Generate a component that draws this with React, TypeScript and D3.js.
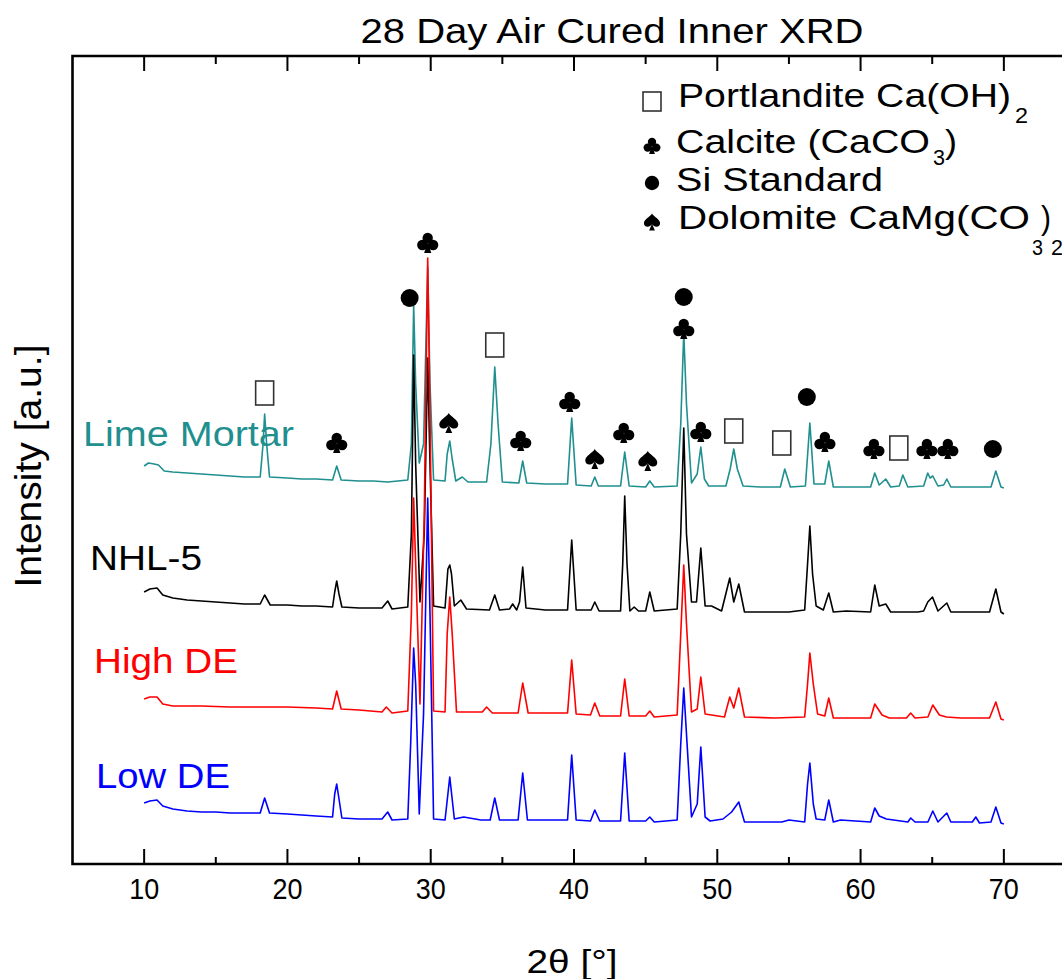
import React from 'react';
import * as d3 from 'd3';

type Pt = [number, number];

// 2θ (deg) vs stacked intensity (a.u.)
const limeMortar: Pt[] = [[10.0,398],[10.3,401],[10.7,400],[11.0,399],[11.4,393],[12.0,392],[13.0,391],[14.0,390],[15.0,389],[16.0,388],[17.0,387],[18.1,387],[18.3,420],[18.41,450],[18.55,420],[18.75,387],[20.0,386],[21.0,385],[22.0,385],[23.15,384],[23.44,398],[23.75,384],[25.0,383],[26.0,383],[27.0,382],[28.4,384],[28.65,420],[28.81,559],[28.95,480],[29.2,401],[29.5,420],[29.79,597],[29.95,480],[30.2,384],[31.0,383],[31.15,410],[31.33,423],[31.5,405],[31.75,383],[32.2,387],[32.6,382],[33.9,382],[34.2,420],[34.47,497],[34.7,440],[35.0,382],[36.15,381],[36.42,403],[36.7,381],[38.0,380],[39.55,380],[39.84,446],[40.15,379],[41.2,378],[41.45,387],[41.7,378],[43.25,378],[43.54,412],[43.85,378],[45.0,377],[45.29,383],[45.6,377],[47.2,378],[47.45,440],[47.66,531],[47.85,460],[48.2,381],[48.6,390],[48.85,417],[49.1,385],[49.4,378],[50.6,378],[50.9,395],[51.15,415],[51.4,395],[51.8,378],[53.0,377],[54.4,377],[54.71,395],[55.1,377],[56.15,378],[56.46,441],[56.75,380],[57.5,380],[57.78,403],[58.1,377],[60.7,377],[60.99,391],[61.3,379],[61.76,385],[62.1,377],[62.7,378],[62.95,389],[63.3,377],[64.4,378],[64.69,391],[64.85,386],[65.04,388],[65.4,378],[65.8,379],[66.02,385],[66.3,377],[67.5,377],[69.1,377],[69.44,393],[69.8,377],[70.0,376]];

const nhl5: Pt[] = [[10.0,272],[10.4,275],[10.9,276],[11.3,269],[12.0,266],[13.0,264],[14.0,263],[15.0,262],[16.0,261],[17.0,260],[18.1,260],[18.41,269],[18.8,259],[20.0,259],[21.0,258],[22.0,258],[23.15,257],[23.3,272],[23.44,283],[23.6,270],[23.8,257],[25.0,256],[26.6,256],[27.0,263],[27.3,255],[28.4,257],[28.65,330],[28.81,509],[28.95,400],[29.25,262],[29.55,330],[29.79,506],[29.95,400],[30.2,258],[31.0,256],[31.2,295],[31.33,299],[31.45,290],[31.65,258],[32.1,264],[32.5,255],[34.1,254],[34.47,269],[34.8,254],[35.5,255],[35.72,260],[36.0,254],[36.2,262],[36.42,297],[36.65,256],[38.0,254],[39.55,254],[39.84,324],[40.15,254],[41.2,254],[41.45,262],[41.75,253],[43.25,253],[43.4,300],[43.54,368],[43.7,300],[43.9,253],[44.2,257],[44.5,253],[45.0,253],[45.29,272],[45.6,253],[47.2,255],[47.45,330],[47.66,436],[47.85,330],[48.2,262],[48.55,262],[48.85,316],[49.15,258],[49.6,258],[50.3,253],[50.87,286],[51.15,262],[51.5,280],[51.9,252],[53.0,252],[55.0,252],[56.1,254],[56.3,300],[56.46,338],[56.65,290],[56.9,258],[57.4,254],[57.78,271],[58.1,252],[59.0,253],[60.7,252],[60.99,279],[61.3,258],[61.76,260],[62.1,252],[64.0,252],[64.4,253],[64.69,262],[65.02,267],[65.4,253],[66.02,261],[66.3,252],[69.0,252],[69.44,275],[69.8,252],[70.0,250]];

const highDE: Pt[] = [[10.0,165],[10.4,167],[10.9,167],[11.3,160],[12.0,158],[14.0,158],[16.0,157],[18.0,157],[20.0,157],[22.0,156],[23.15,155],[23.44,173],[23.75,155],[25.0,154],[26.6,152],[26.9,157],[27.3,151],[28.4,153],[28.65,250],[28.81,366],[28.95,300],[29.25,160],[29.55,350],[29.79,606],[29.95,450],[30.2,153],[31.0,152],[31.15,230],[31.33,267],[31.5,230],[31.8,152],[33.6,152],[33.9,157],[34.3,151],[36.1,151],[36.42,181],[36.8,151],[39.55,151],[39.84,204],[40.15,150],[41.15,149],[41.45,161],[41.8,148],[43.25,148],[43.54,185],[43.85,148],[45.0,148],[45.29,153],[45.6,147],[47.2,149],[47.45,230],[47.66,299],[47.85,240],[48.2,152],[48.6,155],[48.85,187],[49.15,150],[50.5,147],[50.87,167],[51.15,156],[51.5,176],[51.9,147],[54.0,146],[56.1,147],[56.3,180],[56.46,211],[56.7,180],[57.0,150],[57.5,148],[57.78,166],[58.1,146],[60.7,146],[60.99,160],[61.5,149],[62.0,146],[63.2,146],[63.5,151],[63.8,146],[64.7,147],[65.04,159],[65.5,149],[66.0,147],[67.0,146],[69.0,146],[69.44,162],[69.8,145],[70.0,144]];

const lowDE: Pt[] = [[10.0,61],[10.4,63],[10.9,64],[11.3,58],[12.0,55],[13.0,53],[14.0,52],[15.0,52],[16.0,51],[17.0,51],[18.1,51],[18.41,66],[18.75,51],[20.0,50],[21.0,49],[22.0,48],[23.15,47],[23.3,70],[23.44,80],[23.6,65],[23.8,46],[25.0,45],[26.6,45],[27.0,52],[27.3,44],[28.4,45],[28.6,120],[28.81,216],[28.95,180],[29.2,50],[29.5,150],[29.79,366],[29.95,250],[30.2,45],[31.0,44],[31.33,87],[31.65,45],[32.3,47],[33.5,44],[34.15,44],[34.47,66],[34.8,44],[36.1,44],[36.42,91],[36.75,44],[39.55,44],[39.84,109],[40.15,44],[41.15,43],[41.45,54],[41.8,43],[43.25,43],[43.54,111],[43.85,43],[45.0,43],[45.29,47],[45.6,42],[47.2,44],[47.45,120],[47.66,176],[47.85,130],[48.2,47],[48.6,60],[48.85,117],[49.15,47],[49.5,43],[50.4,45],[51.0,52],[51.5,62],[51.9,42],[54.5,42],[55.0,44],[56.1,42],[56.3,80],[56.46,101],[56.7,60],[56.9,45],[57.5,44],[57.78,64],[58.1,42],[58.6,44],[60.7,42],[60.99,56],[61.3,48],[61.8,45],[63.3,42],[63.5,46],[63.8,42],[64.7,42],[65.04,53],[65.4,42],[66.02,51],[66.3,42],[67.8,42],[68.04,47],[68.3,41],[69.1,42],[69.44,57],[69.8,41],[70.0,40]];

const seriesNames = ['Lime Mortar', 'NHL-5', 'High DE', 'Low DE'];
const seriesColors = ['#1f8f8f', '#000000', '#ff0000', '#0000ff'];
const seriesData = [limeMortar, nhl5, highDE, lowDE];

type Kind = 'sq' | 'club' | 'dot' | 'spade';
const markerTheta = [18.41, 23.44, 28.53, 29.79, 31.26, 34.47, 36.28, 39.70, 41.45, 43.47, 45.15, 47.66, 47.66, 48.85, 51.15, 54.50, 56.25, 57.51, 60.93, 62.67, 64.63, 66.09, 69.23];
const markerLevel = [471, 421, 566, 621, 441, 519, 423, 462, 405, 431, 403, 567, 535, 432, 433, 421, 467, 422, 415, 416, 415, 415, 415];
const markerKind: Kind[] = ['sq', 'club', 'dot', 'club', 'spade', 'sq', 'club', 'club', 'spade', 'club', 'spade', 'dot', 'club', 'club', 'sq', 'sq', 'dot', 'club', 'club', 'sq', 'club', 'club', 'dot'];

const xMajorTicks = [10, 20, 30, 40, 50, 60, 70];
const xMinorTicks = [15, 25, 35, 45, 55, 65, 75];

const FONT = "'Liberation Sans', Arial, Helvetica, sans-serif";

const clubPath = 'M0,-1 L-3.6,10 L3.6,10 Z';
const spadePath = 'M0,-10 C2,-6 9.5,-3.5 9.5,1.5 C9.5,5.5 5,7 1.5,4 L0,2.5 L-1.5,4 C-5,7 -9.5,5.5 -9.5,1.5 C-9.5,-3.5 -2,-6 0,-10 Z M0,2 L-3.4,10 L3.4,10 Z';

function Glyph({ kind, cx, cy, s = 1 }: { kind: Kind; cx: number; cy: number; s?: number }) {
  const tr = `translate(${cx},${cy}) scale(${s})`;
  if (kind === 'club') {
    return (
      <g transform={tr} fill="#000">
        <circle cx={0} cy={-5} r={5.2} />
        <circle cx={-5.4} cy={2} r={5.2} />
        <circle cx={5.4} cy={2} r={5.2} />
        <path d={clubPath} />
      </g>
    );
  }
  if (kind === 'spade') {
    return <path transform={tr} d={spadePath} fill="#000" />;
  }
  if (kind === 'dot') {
    return <circle cx={cx} cy={cy} r={9 * s} fill="#000" />;
  }
  return <rect x={cx - 9} y={cy - 12} width={18} height={24} fill="#fff" stroke="#333" strokeWidth={1.6} />;
}

export default function App() {
  const x = d3.scaleLinear().domain([5, 75]).range([72.5, 1075.5]);
  const y = d3.scaleLinear().domain([0, 808]).range([864, 56]);
  const line = d3.line<Pt>().x((d) => x(d[0])).y((d) => y(d[1]));
  const [y0, y1] = y.range();
  const xl = x.range()[0];

  return (
    <svg width={1062} height={979} style={{ position: 'absolute', left: 0, top: 0, background: '#fff' }} fontFamily={FONT}>
      <rect width={1062} height={979} fill="#fff" />
      <text x={612} y={43} fontSize={35} textAnchor="middle" textLength={503} lengthAdjust="spacingAndGlyphs">28 Day Air Cured Inner XRD</text>

      {seriesData.map((d, i) => (
        <path key={i} d={line(d) || ''} fill="none" stroke={seriesColors[i]} strokeWidth={1.6} strokeLinejoin="round" />
      ))}

      {markerTheta.map((t, i) => (
        <Glyph key={i} kind={markerKind[i]} cx={x(t)} cy={y(markerLevel[i])} />
      ))}

      {/* axes frame */}
      <path d={`M${x.range()[1]},${y1} H${xl} V${y0} H${x.range()[1]}`} fill="none" stroke="#000" strokeWidth={2.6} />
      {xMajorTicks.map((t) => (
        <g key={t}>
          <line x1={x(t)} x2={x(t)} y1={y0} y2={y0 - 15} stroke="#000" strokeWidth={2} />
          <line x1={x(t)} x2={x(t)} y1={y1} y2={y1 + 15} stroke="#000" strokeWidth={2} />
          <text x={x(t)} y={899} fontSize={30} textAnchor="middle" textLength={30} lengthAdjust="spacingAndGlyphs">{t}</text>
        </g>
      ))}
      {xMinorTicks.map((t) => (
        <g key={t}>
          <line x1={x(t)} x2={x(t)} y1={y0} y2={y0 - 7} stroke="#000" strokeWidth={2} />
          <line x1={x(t)} x2={x(t)} y1={y1} y2={y1 + 8} stroke="#000" strokeWidth={2} />
        </g>
      ))}
      <text x={572} y={973} fontSize={33} textAnchor="middle" textLength={91} lengthAdjust="spacingAndGlyphs">2θ [°]</text>
      <text transform="translate(41,466) rotate(-90)" fontSize={37} textAnchor="middle" textLength={243} lengthAdjust="spacingAndGlyphs">Intensity [a.u.]</text>

      {/* series labels */}
      <text x={83} y={446} fontSize={35} fill={seriesColors[0]} textLength={211} lengthAdjust="spacingAndGlyphs">{seriesNames[0]}</text>
      <text x={90} y={570} fontSize={35} fill={seriesColors[1]} textLength={112} lengthAdjust="spacingAndGlyphs">{seriesNames[1]}</text>
      <text x={94} y={673} fontSize={35} fill={seriesColors[2]} textLength={144} lengthAdjust="spacingAndGlyphs">{seriesNames[2]}</text>
      <text x={96} y={788} fontSize={35} fill={seriesColors[3]} textLength={134} lengthAdjust="spacingAndGlyphs">{seriesNames[3]}</text>

      {/* legend */}
      <rect x={643} y={92} width={18} height={19} fill="#fff" stroke="#333" strokeWidth={1.6} />
      <text x={678} y={107} fontSize={33} textLength={333} lengthAdjust="spacingAndGlyphs">Portlandite Ca(OH)</text>
      <text x={1015} y={123} fontSize={22} textLength={13} lengthAdjust="spacingAndGlyphs">2</text>

      <Glyph kind="club" cx={652} cy={146} s={0.8} />
      <text x={676} y={153} fontSize={33} textLength={254} lengthAdjust="spacingAndGlyphs">Calcite (CaCO</text>
      <text x={933} y={165} fontSize={22} textLength={12} lengthAdjust="spacingAndGlyphs">3</text>
      <text x={945} y={153} fontSize={33} textLength={12} lengthAdjust="spacingAndGlyphs">)</text>

      <Glyph kind="dot" cx={652} cy={183} s={0.8} />
      <text x={676} y={191} fontSize={33} textLength={207} lengthAdjust="spacingAndGlyphs">Si Standard</text>

      <Glyph kind="spade" cx={652} cy={222} s={0.85} />
      <text x={678} y={229} fontSize={33} textLength={352} lengthAdjust="spacingAndGlyphs">Dolomite CaMg(CO</text>
      <text x={1032} y={255} fontSize={22} textLength={11} lengthAdjust="spacingAndGlyphs">3</text>
      <text x={1041} y={229} fontSize={33} textLength={10} lengthAdjust="spacingAndGlyphs">)</text>
      <text x={1051} y={255} fontSize={22} textLength={12} lengthAdjust="spacingAndGlyphs">2</text>
    </svg>
  );
}
